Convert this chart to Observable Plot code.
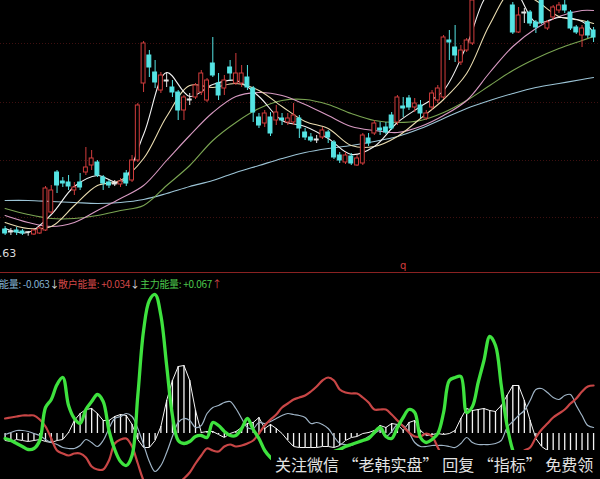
<!DOCTYPE html>
<html>
<head>
<meta charset="utf-8">
<script src="https://cdn.jsdelivr.net/npm/d3@7"></script>
<script src="https://cdn.jsdelivr.net/npm/@observablehq/plot@0.6"></script>
<style>
  html, body { margin: 0; padding: 0; background: #000; }
  #root { position: relative; width: 600px; height: 479px; background: #000; overflow: hidden; }
  #upper, #lower { display: block; }
  #lower { border-top: 1px solid #8a2222; }
  svg { display: block; }
  .legend { position: absolute; top: 277px; font: 10px/13px "Noto Sans CJK SC", "DejaVu Sans", sans-serif; white-space: nowrap; letter-spacing: -0.3px; }
  #wm { position: absolute; left: 271px; top: 450px; width: 329px; height: 29px; background: #000;
        color: #e2e2e2; font: 16px/28px "Noto Sans CJK SC", sans-serif; white-space: nowrap; padding-left: 4px; box-sizing: border-box; }
</style>
</head>
<body>
<div id="root">
  <div id="upper"></div>
  <div id="lower"></div>
  <div class="legend" style="left:-1px;color:#86b2d2">能量: -0.063<span style="color:#dddddd">↓</span></div>
  <div class="legend" style="left:58px;color:#d44848">散户能量: +0.034<span style="color:#dddddd">↓</span></div>
  <div class="legend" style="left:140px;color:#4cc84c">主力能量: +0.067<span style="color:#d44848">↑</span></div>
  <div id="wm">关注微信 “老韩实盘” 回复 “指标” 免费领</div>
</div>
<script>
// ---- Price candles (one per trading day) ----
const open = [4.3,4.1,4.2,4.1,4.02,3.8,3.9,4.2,6.0,10.0,
  9.1,9.0,8.2,9.0,10.0,10.7,11.0,9.5,9.0,8.9,
  8.8,9.9,9.2,11.2,18.9,21.7,20.0,18.2,19.2,18.5,
  18.0,16.2,17.3,17.5,18.0,17.2,20.9,18.9,18.4,20.5,
  18.9,18.9,19.5,18.4,15.5,14.9,15.5,15.2,15.4,15.0,
  15.0,15.4,14.0,13.5,13.3,13.5,14.0,13.0,11.7,11.0,
  11.6,10.7,10.9,13.4,13.9,14.4,14.5,15.7,15.0,16.6,
  17.4,16.5,16.7,15.4,16.5,17.2,17.5,23.2,22.5,21.0,
  22.2,22.9,27.7,29.7,28.7,30.2,29.2,29.2,26.7,24.0,
  26.0,26.0,25.0,27.2,24.4,25.5,26.2,26.7,26.0,24.5,
  23.7,25.0,24.2];
const close = [3.9,4.0,4.0,3.9,4.0,4.2,4.4,8.4,8.2,8.7,
  8.9,8.6,8.5,8.5,10.5,11.4,9.7,8.9,8.7,8.8,
  9.1,8.9,11.2,16.7,22.9,20.5,19.0,19.7,19.1,18.0,
  16.2,17.5,17.2,18.7,19.9,19.2,19.7,17.7,19.2,19.9,
  19.9,19.9,18.5,16.0,14.7,15.9,13.9,16.0,15.2,15.4,
  15.7,14.4,13.5,13.2,13.2,14.2,13.5,11.5,11.2,11.7,
  10.9,11.4,13.7,12.9,14.9,14.2,14.0,14.4,17.5,16.4,
  16.5,16.9,15.9,15.9,17.9,18.4,23.5,23.0,21.7,22.2,
  23.2,27.2,29.7,28.7,30.7,29.2,30.2,27.7,24.0,25.7,
  25.9,24.9,24.5,25.0,25.0,26.5,26.7,26.2,24.4,24.0,
  24.4,23.7,23.5];
const high = [4.6,4.4,4.5,4.3,4.1,4.3,4.6,8.6,8.7,10.2,
  9.5,9.7,9.0,9.9,12.5,12.2,11.2,9.7,9.2,9.2,
  9.4,10.2,11.7,16.9,23.1,22.2,21.2,20.0,20.0,19.2,
  18.2,17.7,17.9,18.9,20.2,19.4,23.5,19.9,19.7,21.2,
  21.9,20.7,20.7,18.6,15.9,16.2,16.0,16.7,15.9,15.9,
  16.9,15.7,14.4,13.9,13.7,14.5,14.2,13.2,12.0,12.0,
  11.9,11.7,13.9,13.9,15.2,15.0,15.0,16.0,17.7,17.5,
  17.7,17.4,17.2,16.2,18.2,18.7,23.7,24.2,24.7,22.7,
  23.4,27.7,30.2,30.7,31.2,31.0,30.7,29.7,27.0,26.5,
  26.4,26.2,25.2,27.4,25.2,26.7,27.0,27.2,26.2,24.7,
  24.7,25.2,24.5];
const low = [3.7,3.7,3.7,3.7,3.63,3.7,3.8,4.1,5.8,7.9,
  8.5,8.2,7.7,8.2,9.7,10.2,9.5,8.2,8.4,8.6,
  8.5,8.6,9.0,11.0,18.0,19.5,18.4,17.9,18.5,17.5,
  15.2,15.2,16.7,17.3,17.7,17.0,19.5,17.2,17.7,19.2,
  18.7,18.5,18.2,15.0,14.4,14.5,13.6,14.7,14.7,14.7,
  14.7,13.4,13.2,13.0,12.9,13.3,12.9,11.3,10.9,10.8,
  10.7,10.6,10.7,12.6,13.7,13.7,13.8,14.2,14.7,15.5,
  16.2,16.0,15.4,15.2,16.2,16.9,17.3,21.2,21.0,20.7,
  22.0,22.7,27.5,28.2,28.4,28.7,29.0,27.4,23.8,23.9,
  24.9,24.6,23.9,24.8,24.2,25.2,25.9,25.9,24.2,23.8,
  22.5,23.4,23.0];

// ---- Moving averages read at sampled days ----
const maDays = [0,4,8,12,16,20,24,28,32,36,40,44,48,52,56,60,64,68,72,76,80,84,88,92,96,100,102];
const ma5  = [4.4,4.0,5.8,8.6,9.7,9.0,13.8,20.0,17.6,18.8,19.2,17.6,15.2,14.6,13.4,11.8,12.6,15.0,16.6,18.2,22.7,28.0,28.4,25.0,25.5,25.1,24.0];
const ma10 = [5.0,4.4,4.6,6.7,8.7,9.2,11.4,15.6,18.7,18.5,18.9,18.2,16.6,15.1,14.4,12.7,12.6,13.6,15.4,17.3,19.9,24.8,28.2,27.2,25.6,25.2,24.9];
const ma20 = [5.7,5.0,4.6,5.0,6.2,7.4,8.7,11.2,13.7,16.0,17.6,18.0,17.7,16.8,15.7,14.6,14.2,14.0,14.6,15.7,17.2,20.0,22.6,24.4,25.6,26.2,26.2];
const ma30 = [6.4,5.8,5.4,5.4,5.7,6.2,6.7,8.7,10.7,13.2,15.0,16.4,17.2,17.3,16.8,15.9,15.2,15.0,15.2,16.0,17.2,18.7,20.2,21.4,22.4,23.2,23.6];
const ma60 = [7.2,7.2,7.1,7.0,6.9,7.0,7.3,7.9,8.6,9.2,10.0,10.7,11.4,12.0,12.4,12.7,13.1,13.6,14.4,15.4,16.4,17.2,17.9,18.5,18.9,19.3,19.5];
const gridLevels = [22.9, 17.0, 11.2, 5.5];
const lowMark = {day: 4, price: 3.63, label: "3.63"};
const qMark = {day: 69, price: 0.7, label: "q"};

// ---- Energy indicator (x 0.001) ----
const energy = [-7,-8,-6,-7,-8,-7,-6,-8,-9,-7,
  -6,1,13,20,24,25,20,13,13,17,
  19,18,9,-6,-14,-14,-7,7,33,53,
  67,68,53,23,1,2,2,-1,-4,0,
  2,6,10,11,16,5,9,5,0,-7,
  -13,-14,-14,-14,-14,-13,-13,-14,-12,-7,
  -4,-3,0,1,3,8,6,10,9,3,
  11,13,3,-2,-1,0,-1,0,3,15,
  25,23,24,25,23,22,28,38,48,48,
  33,13,-5,-13,-17,-19,-19,-19,-19,-19,
  -19,-18,-17];
const mainForce = [-5,-7,-10,-13,-16,-15,-7,26,34,49,
  56,28,15,10,24,32,39,32,3,-16,
  -28,-32,-22,38,103,133,139,118,68,18,
  -7,-10,-8,-3,-2,-4,11,8,2,-2,
  -2,5,15,4,-5,-17,-24,-29,-32,-35,
  -35,-33,-30,-27,-24,-22,-20,-18,-16,-13,
  -11,-9,-7,-5,1,6,-3,-5,6,16,
  24,21,-4,-9,-6,0,21,53,56,57,
  21,27,51,73,97,88,48,8,-17,-32,
  -36,-38,-40,-40,-39,-38,-37,-36,-35,-34,
  -33,-32,-31];
const retail = [15,16,17,18,18,18,14,7,-5,-17,
  -20,-22,-20,-20,-24,-33,-36,-36,-27,-10,
  -6,-5,-13,-30,-47,-57,-62,-62,-59,-55,
  -50,-45,-39,-30,-22,-15,-17,-18,-13,-11,
  -13,-12,-10,-7,0,8,14,19,26,30,
  34,36,38,42,47,53,56,53,44,41,
  40,40,36,31,24,24,24,19,13,7,
  1,-3,-3,0,-3,-14,-25,-32,-37,-39,
  -40,-39,-37,-35,-33,-31,-29,-27,-24,-20,
  -17,-14,-4,4,10,16,20,24,30,35,
  42,47,48];
const total = [-1,1,3,3,2,0,-2,-6,-9,-11,
  -14,-15,-15,-12,-6,-9,-13,-7,5,15,
  17,20,17,5,-11,-28,-38,-32,-19,-3,
  11,15,13,6,8,20,26,28,31,32,
  25,15,6,5,11,10,12,15,18,20,
  19,18,16,10,11,9,5,-3,-10,-11,
  -12,-9,-7,-3,0,3,-3,2,9,8,
  1,-9,-13,-13,-12,-12,-12,-13,-14,-10,
  -4,-9,-11,-11,-11,-10,-7,6,12,18,
  23,33,44,45,41,36,34,38,39,28,
  18,8,6];

// ---- Build tables ----
const candles = close.map((c, i) => ({i, open: open[i], close: c, high: high[i], low: low[i]}));
const maRows = maDays.map((d, k) => ({i: d, ma5: ma5[k], ma10: ma10[k], ma20: ma20[k], ma30: ma30[k], ma60: ma60[k]}));
const ind = energy.map((v, i) => ({i, energy: v, main: mainForce[i], retail: retail[i], total: total[i]}));

const UP = "#d03c3c", DOWN = "#55e4e4", DOJI = "#e4e4e4";
const cColor = d => Math.abs(d.close - d.open) < 0.15 ? DOJI : (d.close > d.open ? UP : DOWN);
const xScale = {domain: [-0.8, 103.2], axis: null};

const upper = Plot.plot({
  width: 600, height: 272, margin: 0,
  style: {background: "#000", overflow: "hidden"},
  x: xScale,
  y: {domain: [0, 27.2], axis: null},
  marks: [
    Plot.ruleY(gridLevels, {stroke: "#3e1010", strokeDasharray: "1,2"}),
    Plot.line(maRows, {x: "i", y: "ma60", stroke: "#9cc4d6", strokeWidth: 1.1, curve: "catmull-rom", clip: true}),
    Plot.line(maRows, {x: "i", y: "ma30", stroke: "#7aa452", strokeWidth: 1.1, curve: "catmull-rom", clip: true}),
    Plot.line(maRows, {x: "i", y: "ma20", stroke: "#d89ac2", strokeWidth: 1.1, curve: "catmull-rom", clip: true}),
    Plot.line(maRows, {x: "i", y: "ma10", stroke: "#eadcb0", strokeWidth: 1.1, curve: "catmull-rom", clip: true}),
    Plot.line(maRows, {x: "i", y: "ma5", stroke: "#f2f2f2", strokeWidth: 1.1, curve: "catmull-rom", clip: true}),
    Plot.ruleX(candles, {x: "i", y1: "low", y2: "high", stroke: cColor, strokeWidth: 1, clip: true}),
    Plot.rect(candles, {
      x1: d => d.i - 0.34, x2: d => d.i + 0.34,
      y1: d => Math.min(d.open, d.close), y2: d => Math.max(d.open, d.close),
      fill: d => (d.close > d.open && cColor(d) === UP) ? "#000" : cColor(d),
      stroke: cColor, strokeWidth: 1, clip: true
    }),
    Plot.text([lowMark], {x: "day", y: "price", text: "label", textAnchor: "end", dx: -12, dy: 17,
      fill: "#dcdcdc", fontSize: 11, fontFamily: "DejaVu Sans"}),
    Plot.text([qMark], {x: "day", y: "price", text: "label", fill: "#d03c3c", fontSize: 10, fontFamily: "DejaVu Sans"})
  ]
});
document.getElementById("upper").append(upper);

const lower = Plot.plot({
  width: 600, height: 206, margin: 0,
  style: {background: "#000", overflow: "hidden"},
  x: xScale,
  y: {domain: [-46, 160], axis: null},
  marks: [
    Plot.ruleX(ind, {x: "i", y1: 0, y2: "energy", stroke: "#f4f4f4", strokeWidth: 1.3, clip: true}),
    Plot.line(ind, {x: "i", y: "energy", stroke: "#f4f4f4", strokeWidth: 1, clip: true}),
    Plot.line(ind, {x: "i", y: "total", stroke: "#9fb4c6", strokeWidth: 1.2, curve: "catmull-rom", clip: true}),
    Plot.line(ind, {x: "i", y: "retail", stroke: "#c84646", strokeWidth: 2.2, curve: "catmull-rom", clip: true}),
    Plot.line(ind, {x: "i", y: "main", stroke: "#3ee23e", strokeWidth: 3.3, curve: "catmull-rom", clip: true})
  ]
});
document.getElementById("lower").append(lower);
</script>
</body>
</html>
